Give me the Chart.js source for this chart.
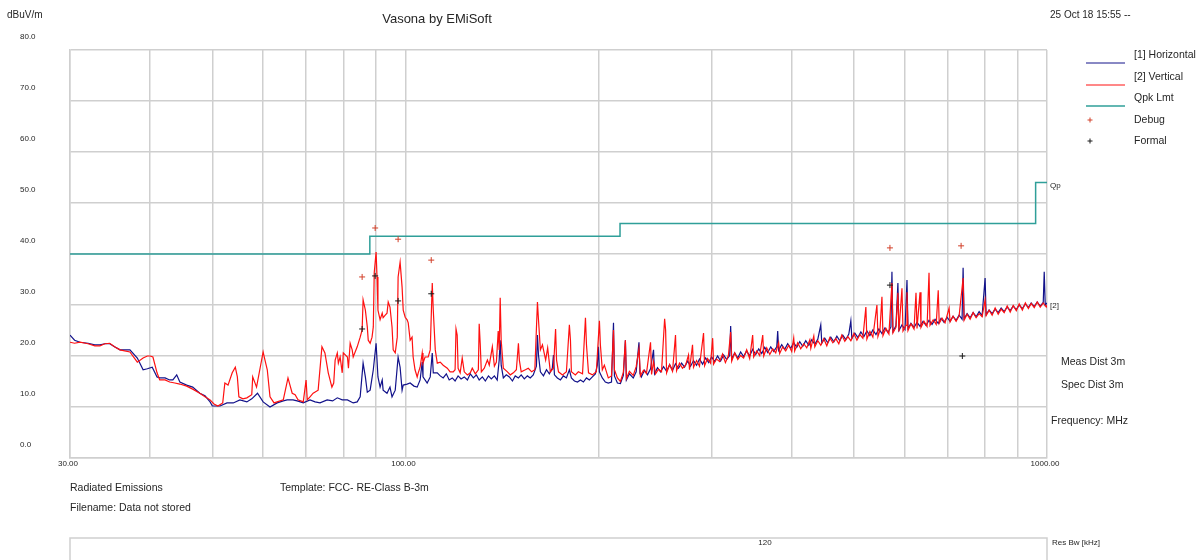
<!DOCTYPE html>
<html>
<head>
<meta charset="utf-8">
<title>Vasona by EMiSoft</title>
<script src="https://cdn.jsdelivr.net/npm/chart.js@4.4.1/dist/chart.umd.min.js"></script>
<style>
  html, body { margin: 0; padding: 0; background: #fff; }
  #wrap { width: 1200px; height: 560px; }
</style>
</head>
<body>
<div id="wrap"><canvas id="emiChart" width="1200" height="560"></canvas></div>
<script>
// ---- scan data: frequency in MHz, level in dBuV/m ----
const horizFreq = [
  30.0, 30.5, 31.1, 32.0, 32.8, 33.4, 34.0, 34.6, 35.2, 35.9,
  36.5, 37.2, 38.2, 39.0, 39.6, 40.3, 41.0, 41.4, 42.2, 42.9,
  43.4, 44.0, 44.5, 45.6, 46.6, 47.8, 48.7, 49.6, 50.0, 51.4,
  52.7, 53.9, 55.2, 56.6, 57.6, 58.8, 60.0, 61.5, 63.1, 64.5,
  65.4, 66.8, 67.8, 69.3, 71.0, 72.3, 73.6, 75.5, 77.0, 78.3,
  79.7, 81.2, 82.9, 84.1, 85.0, 85.9, 86.6, 87.2, 88.1, 89.1,
  90.0, 90.6, 91.3, 92.0, 92.3, 93.6, 94.6, 95.3, 96.4, 97.4,
  98.1, 98.8, 99.2, 100.6, 101.7, 103.1, 104.3, 105.4, 106.2, 106.5,
  108.1, 109.3, 110.1, 110.5, 112.1, 113.3, 114.5, 115.8, 117.0, 118.3,
  119.5, 120.8, 122.1, 123.5, 124.9, 126.2, 127.6, 129.0, 130.3, 131.8,
  133.2, 134.7, 136.1, 137.6, 139.0, 140.0, 140.5, 141.0, 142.1, 143.6,
  145.2, 146.8, 148.3, 150.0, 151.5, 153.2, 154.9, 156.5, 158.2, 160.0,
  160.6, 161.2, 162.3, 164.1, 165.9, 167.6, 169.4, 170.1, 170.7, 172.5,
  174.4, 176.3, 178.2, 180.1, 181.4, 183.4, 185.4, 187.4, 189.4, 191.5,
  193.5, 195.6, 197.7, 199.1, 199.9, 200.6, 202.7, 204.9, 207.1, 209.5,
  211.0, 211.7, 214.0, 216.3, 218.6, 220.2, 221.0, 223.4, 226.5, 228.9,
  231.2, 232.0, 233.2, 235.8, 238.4, 241.0, 243.6, 244.5, 247.1, 249.8,
  252.5, 255.3, 258.1, 260.8, 263.6, 266.5, 269.4, 272.3, 275.3, 278.2,
  281.2, 284.3, 287.3, 290.5, 293.7, 296.9, 300.1, 303.3, 306.6, 309.9,
  313.3, 316.7, 320.2, 321.3, 322.5, 326.0, 329.6, 333.0, 336.6, 340.3,
  344.0, 347.7, 351.5, 355.3, 359.2, 363.1, 367.0, 371.0, 375.0, 379.1,
  380.4, 381.7, 385.9, 390.1, 394.3, 398.6, 402.9, 407.3, 411.7, 416.2,
  420.7, 425.3, 429.9, 434.6, 439.3, 444.0, 445.6, 450.4, 455.3, 460.3,
  465.3, 470.4, 475.4, 480.5, 485.7, 491.0, 494.6, 496.4, 501.8, 507.3,
  512.7, 518.3, 523.9, 529.6, 535.3, 541.2, 547.0, 553.0, 559.0, 565.1,
  571.1, 573.2, 575.2, 581.5, 585.6, 587.7, 594.2, 600.7, 605.0, 607.2,
  613.7, 620.4, 627.2, 634.0, 640.9, 647.9, 654.8, 662.0, 669.2, 676.8,
  683.7, 691.1, 698.7, 706.2, 713.8, 721.6, 729.5, 737.3, 740.0, 742.6,
  750.7, 758.9, 767.1, 775.4, 783.8, 792.2, 800.8, 803.7, 812.4, 821.3,
  830.2, 839.3, 848.3, 857.5, 866.9, 876.3, 885.8, 895.6, 905.1, 915.3,
  925.3, 935.4, 944.9, 955.2, 965.5, 976.0, 986.6, 990.1, 993.7, 1000
];
const horizLevel = [
  24.1, 23.1, 22.7, 22.5, 22.2, 22.2, 22.4, 22.4, 21.8, 21.2,
  21.2, 21.2, 19.6, 17.3, 17.5, 17.8, 15.9, 15.7, 15.7, 15.3,
  15.3, 16.3, 14.9, 14.3, 13.9, 12.7, 12.2, 11.0, 10.2, 10.2,
  10.8, 10.8, 11.4, 11.0, 11.6, 12.7, 11.0, 10.0, 10.8, 11.2,
  11.4, 11.4, 11.2, 10.8, 11.4, 11.0, 10.8, 11.4, 11.2, 11.8,
  11.4, 11.4, 10.8, 11.0, 12.0, 18.6, 15.9, 12.9, 13.3, 17.3,
  22.5, 15.9, 13.9, 15.3, 13.3, 12.7, 13.9, 12.0, 13.3, 19.8,
  17.8, 13.3, 14.3, 14.5, 14.7, 14.1, 13.9, 15.3, 18.8, 15.9,
  14.7, 15.9, 20.6, 16.7, 16.7, 16.1, 15.7, 16.5, 15.3, 15.7,
  15.1, 16.1, 15.5, 15.9, 15.3, 16.5, 15.7, 16.3, 15.3, 15.9,
  15.1, 16.1, 15.5, 16.1, 15.3, 19.2, 23.1, 18.2, 15.7, 16.3,
  15.9, 15.1, 16.1, 15.7, 16.3, 15.5, 16.1, 15.7, 16.3, 18.0,
  24.1, 20.2, 16.9, 16.1, 17.3, 16.5, 17.6, 20.2, 16.3, 15.7,
  15.3, 16.1, 15.7, 17.3, 15.7, 15.1, 14.9, 15.3, 14.9, 15.7,
  15.3, 15.9, 16.5, 18.2, 21.8, 16.9, 15.7, 14.9, 14.7, 14.9,
  26.5, 16.1, 14.7, 14.6, 16.2, 23.1, 15.3, 16.5, 15.7, 16.9,
  22.7, 16.6, 15.9, 17.2, 16.3, 17.5, 21.2, 16.5, 17.7, 16.9,
  17.9, 17.0, 18.3, 17.2, 18.5, 17.6, 18.6, 17.8, 19.0, 18.0,
  19.1, 18.2, 19.4, 18.4, 19.6, 18.7, 19.8, 18.9, 20.0, 19.0,
  20.2, 19.3, 20.1, 25.9, 19.4, 20.6, 19.6, 20.8, 19.9, 21.0,
  20.0, 21.3, 20.3, 21.4, 20.5, 21.7, 20.7, 21.8, 20.9, 21.8,
  24.9, 21.1, 22.2, 21.3, 22.4, 21.5, 22.6, 21.7, 22.8, 21.9,
  23.0, 22.1, 23.2, 22.3, 23.3, 26.1, 22.5, 23.5, 22.6, 23.7,
  22.8, 23.9, 23.0, 24.1, 23.2, 24.3, 26.9, 23.4, 24.5, 23.6,
  24.7, 23.8, 24.9, 24.0, 25.1, 24.2, 25.3, 24.4, 25.5, 24.6,
  25.7, 36.5, 24.8, 25.9, 34.3, 25.0, 26.1, 25.2, 34.9, 25.4,
  26.4, 25.6, 26.6, 25.8, 26.8, 26.0, 27.0, 26.2, 27.2, 26.4,
  27.4, 26.6, 27.6, 26.8, 27.8, 27.0, 28.0, 27.2, 37.3, 27.3,
  28.3, 27.5, 28.5, 27.7, 28.7, 27.9, 35.3, 28.1, 29.0, 28.3,
  29.2, 28.5, 29.4, 28.7, 29.6, 28.9, 29.8, 29.1, 30.0, 29.3,
  30.2, 29.5, 30.4, 29.7, 30.6, 29.8, 30.5, 36.5, 30.0, 30.4
];

const vertFreq = [
  30.0, 30.5, 31.1, 32.0, 32.8, 33.4, 34.0, 34.6, 35.2, 35.9,
  36.5, 37.2, 38.2, 39.0, 39.6, 40.0, 40.4, 41.0, 41.4, 42.2,
  42.9, 43.7, 44.5, 45.6, 46.6, 47.8, 48.7, 49.6, 50.3, 51.0,
  51.9, 52.3, 52.9, 53.7, 54.3, 54.7, 55.0, 55.8, 56.6, 57.6,
  57.8, 58.6, 60.0, 60.4, 60.9, 61.5, 62.4, 63.1, 64.5, 65.6,
  66.6, 67.3, 68.0, 69.3, 70.0, 70.3, 71.0, 71.8, 73.1, 74.1,
  74.9, 75.8, 76.8, 77.3, 77.7, 78.3, 78.6, 79.1, 79.7, 80.0,
  81.2, 81.5, 82.0, 82.6, 82.9, 84.1, 85.0, 85.6, 85.9, 86.6,
  87.2, 87.5, 88.1, 88.7, 89.1, 89.4, 90.0, 90.3, 90.6, 91.3,
  92.0, 92.3, 93.0, 93.6, 94.0, 94.6, 95.3, 95.7, 96.4, 97.1,
  97.4, 98.1, 98.8, 99.2, 99.9, 100.6, 101.0, 101.7, 102.4, 102.8,
  103.5, 104.3, 104.7, 105.4, 106.2, 106.5, 107.3, 108.5, 109.3, 110.1,
  110.5, 111.3, 112.1, 113.3, 114.5, 116.2, 117.4, 118.7, 119.5, 119.9,
  120.4, 120.8, 121.7, 122.6, 123.5, 124.9, 126.2, 127.1, 128.5, 129.9,
  130.3, 130.8, 131.3, 132.7, 134.2, 135.1, 136.6, 137.6, 138.6, 139.5,
  140.0, 140.5, 141.0, 142.1, 144.2, 145.7, 147.3, 148.9, 150.0, 150.5,
  151.5, 153.8, 155.4, 157.3, 159.1, 160.6, 161.2, 162.3, 163.5, 165.4,
  166.6, 168.2, 170.1, 171.4, 172.0, 173.2, 175.7, 178.2, 180.1, 180.8,
  181.4, 184.0, 186.0, 188.8, 190.8, 191.5, 192.9, 195.6, 198.4, 200.6,
  201.3, 202.7, 204.2, 207.1, 209.5, 211.0, 211.7, 214.0, 216.3, 218.6,
  220.2, 221.0, 223.4, 226.5, 228.9, 231.2, 232.4, 235.0, 237.5, 241.0,
  241.9, 243.6, 245.4, 248.0, 250.7, 253.5, 254.4, 255.3, 258.1, 260.8,
  263.6, 264.6, 267.4, 270.3, 273.3, 276.2, 277.2, 280.2, 281.2, 284.3,
  287.3, 291.5, 292.6, 295.7, 299.0, 301.2, 302.2, 305.5, 308.8, 312.1,
  315.3, 318.7, 321.3, 322.5, 326.0, 329.6, 333.0, 336.6, 340.3, 344.0,
  347.7, 349.0, 352.8, 356.6, 360.5, 361.8, 365.7, 369.7, 373.7, 377.7,
  381.7, 383.1, 387.3, 391.5, 395.7, 400.0, 402.9, 404.3, 408.7, 413.2,
  417.7, 422.2, 426.9, 428.4, 433.0, 434.6, 439.3, 444.0, 448.8, 453.7,
  458.6, 463.6, 468.7, 473.7, 478.8, 484.0, 489.3, 494.6, 500.0, 505.5,
  511.0, 516.4, 522.0, 523.9, 529.6, 535.3, 543.1, 545.1, 549.0, 553.0,
  555.0, 561.0, 567.0, 573.2, 575.2, 581.5, 585.6, 587.7, 594.2, 596.4,
  602.9, 605.0, 607.2, 613.7, 620.4, 624.9, 627.2, 634.0, 636.2, 643.1,
  650.2, 654.8, 657.1, 664.6, 671.9, 676.8, 679.2, 686.2, 693.6, 703.7,
  706.2, 713.8, 721.6, 729.5, 740.0, 742.6, 750.7, 758.9, 767.1, 775.4,
  783.8, 792.2, 800.8, 803.7, 812.4, 821.3, 830.2, 839.3, 848.3, 857.5,
  866.9, 876.3, 885.8, 895.6, 905.1, 915.3, 925.3, 935.4, 944.9, 955.2,
  965.5, 976.0, 986.6, 997.3, 1000
];
const vertLevel = [
  22.7, 22.5, 22.7, 22.4, 22.0, 22.0, 22.4, 22.5, 21.8, 21.2,
  21.0, 20.8, 18.8, 19.6, 20.0, 20.0, 19.8, 16.7, 15.3, 15.3,
  14.9, 14.7, 14.5, 14.1, 13.5, 12.7, 12.0, 11.4, 10.6, 10.2,
  10.8, 14.7, 14.3, 16.7, 17.8, 15.9, 12.0, 11.6, 11.8, 12.4,
  15.9, 13.9, 20.8, 19.2, 17.3, 12.0, 10.8, 11.0, 11.4, 15.7,
  12.7, 12.4, 11.4, 11.0, 15.3, 11.4, 12.0, 12.7, 13.3, 21.8,
  20.6, 16.7, 13.9, 14.7, 19.2, 20.6, 18.6, 19.8, 16.7, 20.6,
  19.8, 17.6, 22.5, 21.2, 19.8, 21.8, 23.7, 25.1, 31.0, 29.0,
  25.7, 23.1, 22.5, 23.7, 25.7, 36.3, 40.4, 35.5, 29.0, 27.1,
  28.4, 27.5, 28.0, 28.4, 30.6, 29.6, 25.7, 21.2, 20.6, 23.7,
  35.5, 38.4, 33.5, 29.0, 27.6, 27.1, 26.5, 23.1, 23.7, 19.8,
  17.3, 15.9, 16.7, 17.8, 20.6, 18.6, 19.8, 19.8, 21.2, 34.3,
  29.0, 21.2, 18.6, 18.8, 18.2, 17.6, 16.9, 16.9, 17.3, 25.3,
  24.1, 17.6, 16.7, 19.6, 16.9, 16.3, 16.7, 17.6, 16.5, 17.3,
  26.3, 22.2, 16.9, 17.6, 19.2, 18.2, 21.8, 18.0, 18.8, 24.9,
  21.2, 31.4, 23.1, 17.6, 16.9, 16.3, 16.7, 17.3, 22.5, 19.2,
  16.9, 17.3, 17.6, 16.9, 17.3, 30.6, 27.1, 21.2, 22.2, 19.2,
  21.6, 16.9, 17.6, 25.3, 19.2, 16.9, 16.3, 16.9, 26.1, 23.1,
  16.9, 16.3, 16.9, 16.5, 27.5, 22.2, 16.7, 16.3, 16.9, 26.9,
  22.2, 17.3, 18.2, 15.7, 16.1, 25.1, 17.3, 15.7, 15.0, 16.8,
  23.1, 15.6, 17.0, 16.2, 17.9, 21.4, 16.1, 17.2, 16.6, 22.7,
  16.4, 18.9, 16.5, 17.4, 16.9, 27.3, 25.1, 16.7, 18.3, 17.0,
  24.1, 17.1, 18.6, 17.6, 18.2, 20.2, 17.3, 22.2, 17.8, 19.1,
  18.0, 24.5, 18.1, 19.5, 18.6, 23.5, 18.4, 19.4, 18.9, 20.4,
  18.7, 20.1, 24.7, 19.0, 20.6, 19.3, 20.1, 19.6, 21.2, 19.5,
  24.1, 19.8, 21.0, 20.1, 24.1, 20.0, 21.6, 20.3, 21.4, 20.6,
  22.6, 20.5, 21.8, 21.0, 22.1, 20.9, 23.5, 21.0, 22.6, 21.4,
  22.4, 21.6, 23.2, 21.5, 23.9, 21.8, 23.0, 22.1, 23.4, 22.0,
  23.6, 22.6, 23.4, 22.4, 24.1, 22.9, 23.8, 23.0, 24.4, 23.1,
  24.2, 23.5, 29.6, 23.3, 24.8, 23.7, 30.0, 23.8, 25.0, 31.6,
  24.0, 25.4, 24.3, 34.3, 24.5, 25.6, 32.4, 24.8, 33.3, 24.9,
  26.0, 32.5, 25.0, 26.3, 25.3, 32.4, 25.4, 32.5, 25.6, 26.8,
  25.8, 36.3, 26.0, 27.1, 26.2, 32.9, 26.4, 27.4, 26.5, 29.4,
  26.7, 27.8, 26.8, 27.9, 35.3, 27.0, 28.2, 27.2, 28.5, 27.5,
  28.3, 27.7, 31.0, 27.9, 29.0, 28.0, 29.4, 28.2, 29.2, 28.5,
  29.8, 28.6, 29.9, 28.9, 30.2, 29.0, 30.4, 29.3, 30.3, 29.5,
  30.6, 29.6, 30.4, 29.6, 30.0
];

// quasi-peak limit, FCC class B @ 3 m
const limitFreq = [30, 88, 216, 960, 1000];
const limitLevel = [40, 43.5, 46, 54, 54];

// marked peaks
const debugFreq = [85.6, 89.7, 97.4, 109.7, 569.1, 734.7];
const debugLevel = [35.5, 45.1, 42.9, 38.8, 41.2, 41.6];
const formalFreq = [85.6, 89.7, 97.4, 109.7, 569.1, 738.0];
const formalLevel = [25.3, 35.7, 30.8, 32.2, 33.9, 20.0];

// axes
const freqTicks = [30, 40, 50, 60, 70, 80, 90, 100, 200, 300, 400, 500, 600, 700, 800, 900, 1000];
const freqLabelTicks = [30, 100, 1000];
const freqLabelText = ['30.00', '100.00', '1000.00'];
const levelTicks = [0, 10, 20, 30, 40, 50, 60, 70, 80];
const levelLabels = ['0.0', '10.0', '20.0', '30.0', '40.0', '50.0', '60.0', '70.0', '80.0'];

// legend rows
const legendNames = ['[1] Horizontal', '[2] Vertical', 'Qpk Lmt', 'Debug', 'Formal'];

const BLUE = '#12128a';
const RED = '#ff1010';
const TEAL = '#2f9f99';
const DEBUG = '#d2402a';
const FORMAL = '#1a1a1a';
const GRID = '#cfcfcf';
const INK = '#262626';
const FONT = '"Liberation Sans", Arial, sans-serif';

const toPoints = (xs, ys) => xs.map((x, i) => ({ x: x, y: ys[i] }));

function cross(ctx, x, y, r, color) {
    ctx.strokeStyle = color;
    ctx.lineWidth = 1;
    ctx.beginPath();
    ctx.moveTo(x - r, y); ctx.lineTo(x + r, y);
    ctx.moveTo(x, y - r); ctx.lineTo(x, y + r);
    ctx.stroke();
}

// header, legend, side notes and the footer block
const sheetText = {
    id: 'sheetText',
    afterDraw(chart) {
        const { ctx, scales } = chart;
        const area = chart.chartArea;
        ctx.save();
        ctx.fillStyle = INK;
        ctx.textBaseline = 'middle';

        ctx.font = '10px ' + FONT;
        ctx.textAlign = 'left';
        ctx.fillText('dBuV/m', 7, 15);
        ctx.fillText('25 Oct 18 15:55 --', 1050, 15);

        ctx.font = '13px ' + FONT;
        ctx.textAlign = 'center';
        ctx.fillText('Vasona by EMiSoft', 437, 19);

        // legend
        const rowY = [55, 77, 98, 120, 141];
        const swatch = [BLUE, RED, TEAL];
        ctx.font = '10.5px ' + FONT;
        ctx.textAlign = 'left';
        legendNames.forEach((name, i) => {
            if (i < 3) {
                ctx.strokeStyle = swatch[i];
                ctx.lineWidth = i === 2 ? 1.5 : 1;
                ctx.beginPath();
                ctx.moveTo(1086, rowY[i] + 8);
                ctx.lineTo(1125, rowY[i] + 8);
                ctx.stroke();
            } else {
                cross(ctx, 1090, rowY[i], 2.5, i === 3 ? DEBUG : FORMAL);
            }
            ctx.fillStyle = INK;
            ctx.fillText(name, 1134, rowY[i]);
        });

        // trace end tags
        ctx.font = '8px ' + FONT;
        ctx.fillText('Qp', area.right + 3, scales.y.getPixelForValue(limitLevel[limitLevel.length - 1]) + 3);
        ctx.fillText('[2]', area.right + 3, scales.y.getPixelForValue(vertLevel[vertLevel.length - 1]) + 1);

        ctx.font = '10.5px ' + FONT;
        ctx.fillText('Meas Dist 3m', 1061, 362);
        ctx.fillText('Spec Dist 3m', 1061, 385);
        ctx.fillText('Frequency: MHz', 1051, 421);

        ctx.fillText('Radiated Emissions', 70, 488);
        ctx.fillText('Template: FCC- RE-Class B-3m', 280, 488);
        ctx.fillText('Filename: Data not stored', 70, 508);

        // resolution bandwidth strip
        ctx.strokeStyle = GRID;
        ctx.lineWidth = 1.5;
        ctx.strokeRect(area.left, 538, area.right - area.left, 40);
        ctx.font = '8px ' + FONT;
        ctx.textAlign = 'center';
        ctx.fillText('120', 765, 543);
        ctx.textAlign = 'left';
        ctx.fillText('Res Bw [kHz]', 1052, 543);
        ctx.restore();
    }
};

new Chart(document.getElementById('emiChart'), {
    type: 'line',
    data: {
        datasets: [
            {
                label: legendNames[0],
                data: toPoints(horizFreq, horizLevel),
                borderColor: BLUE,
                borderWidth: 1.2,
                pointRadius: 0,
                tension: 0,
                order: 3
            },
            {
                label: legendNames[1],
                data: toPoints(vertFreq, vertLevel),
                borderColor: RED,
                borderWidth: 1.2,
                pointRadius: 0,
                tension: 0,
                order: 2
            },
            {
                label: legendNames[2],
                data: toPoints(limitFreq, limitLevel),
                borderColor: TEAL,
                borderWidth: 1.5,
                pointRadius: 0,
                stepped: true,
                order: 1
            },
            {
                label: legendNames[3],
                data: toPoints(debugFreq, debugLevel),
                showLine: false,
                pointStyle: 'cross',
                pointRadius: 3,
                pointBorderWidth: 1,
                pointBorderColor: DEBUG,
                order: 0
            },
            {
                label: legendNames[4],
                data: toPoints(formalFreq, formalLevel),
                showLine: false,
                pointStyle: 'cross',
                pointRadius: 3,
                pointBorderWidth: 1,
                pointBorderColor: FORMAL,
                order: 0
            }
        ]
    },
    options: {
        responsive: false,
        devicePixelRatio: 1,
        animation: false,
        events: [],
        layout: { padding: { left: 20, right: 153, top: 50, bottom: 82 } },
        plugins: {
            legend: { display: false },
            title: { display: false },
            tooltip: { enabled: false }
        },
        scales: {
            x: {
                type: 'logarithmic',
                min: 30,
                max: 1000,
                afterBuildTicks: (scale) => { scale.ticks = freqTicks.map(v => ({ value: v })); },
                afterFit: (scale) => { scale.height = 20; },
                grid: { color: GRID, lineWidth: 1.5, drawTicks: false },
                border: { color: GRID, width: 1.5 },
                ticks: {
                    autoSkip: false,
                    maxRotation: 0,
                    padding: 1,
                    labelOffset: -2,
                    color: INK,
                    font: { family: FONT, size: 8 },
                    callback: (value) => {
                        const i = freqLabelTicks.indexOf(value);
                        return i >= 0 ? freqLabelText[i] : '';
                    }
                }
            },
            y: {
                type: 'linear',
                min: 0,
                max: 80,
                afterBuildTicks: (scale) => { scale.ticks = levelTicks.map(v => ({ value: v })); },
                afterFit: (scale) => { scale.width = 50; },
                grid: { color: GRID, lineWidth: 1.5, drawTicks: false },
                border: { color: GRID, width: 1.5 },
                ticks: {
                    padding: 0,
                    crossAlign: 'far',
                    labelOffset: -13,
                    color: INK,
                    font: { family: FONT, size: 8 },
                    callback: (value) => levelLabels[levelTicks.indexOf(value)]
                }
            }
        }
    },
    plugins: [sheetText]
});
</script>
</body>
</html>
